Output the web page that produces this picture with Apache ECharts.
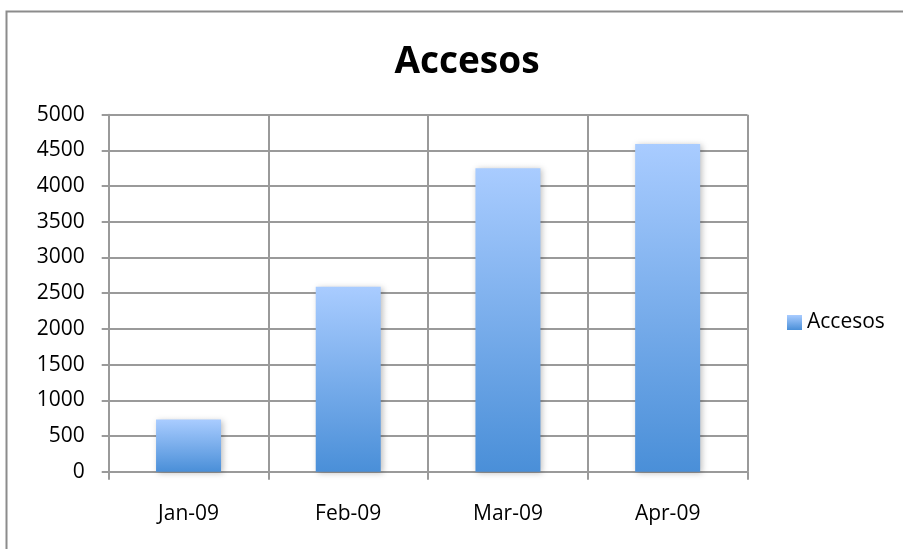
<!DOCTYPE html>
<html><head><meta charset="utf-8">
<script src="https://cdn.jsdelivr.net/npm/echarts@6/dist/echarts.min.js"></script>
<style>html,body{margin:0;padding:0;background:#fff}#c{width:903px;height:549px}</style>
</head><body><div id="c"></div>
<script>
const categories = ['Jan-09', 'Feb-09', 'Mar-09', 'Apr-09'];
const accesos = [730, 2590, 4250, 4590];
const seriesName = 'Accesos';
const titleText = 'Accesos';

const chart = echarts.init(document.getElementById('c'));
const font = '"Open Sans", sans-serif';
chart.setOption({
  animation: false,
  backgroundColor: '#fff',
  graphic: [{
    type: 'rect', left: 4, top: 9, z: -1,
    shape: { width: 1000, height: 1000 },
    style: { fill: 'none', stroke: '#8c8c8c', lineWidth: 2 }
  }],
  title: {
    text: titleText, left: 462, top: 39, textAlign: 'center',
    textStyle: { fontFamily: font, fontWeight: 'bold', fontSize: 37, color: '#000' }
  },
  legend: {
    data: [{ name: seriesName, icon: 'rect' }], left: 787, top: 312, orient: 'vertical',
    padding: 0, itemWidth: 15, itemHeight: 15, itemGap: 6,
    textStyle: { fontFamily: font, fontSize: 21, color: '#000' }
  },
  grid: { left: 108.7, right: 155.5, top: 114.7, bottom: 77.3 },
  xAxis: {
    type: 'category', data: categories,
    axisLine: { lineStyle: { color: '#9a9a9a', width: 2 } },
    axisTick: { show: true, length: 8, lineStyle: { color: '#9a9a9a', width: 2 } },
    splitLine: { show: true, lineStyle: { color: '#9a9a9a', width: 2 } },
    axisLabel: { margin: 32, fontFamily: font, fontSize: 21, color: '#000' }
  },
  yAxis: {
    type: 'value', min: 0, max: 5000, interval: 500,
    axisLine: { show: true, lineStyle: { color: '#9a9a9a', width: 2 } },
    axisTick: { show: true, length: 7, lineStyle: { color: '#9a9a9a', width: 2 } },
    splitLine: { lineStyle: { color: '#9a9a9a', width: 2 } },
    axisLabel: { margin: 24, fontFamily: font, fontSize: 21, color: '#000', formatter: v => String(v) }
  },
  series: [{
    name: seriesName, type: 'bar', data: accesos, barWidth: 65,
    itemStyle: {
      color: new echarts.graphic.LinearGradient(0, 0, 0, 1, [
        { offset: 0, color: '#a9ccff' },
        { offset: 1, color: '#4a8fd8' }
      ]),
      shadowColor: 'rgba(0,0,0,0.25)', shadowBlur: 6, shadowOffsetX: 2, shadowOffsetY: 1
    }
  }]
});
</script></body></html>
